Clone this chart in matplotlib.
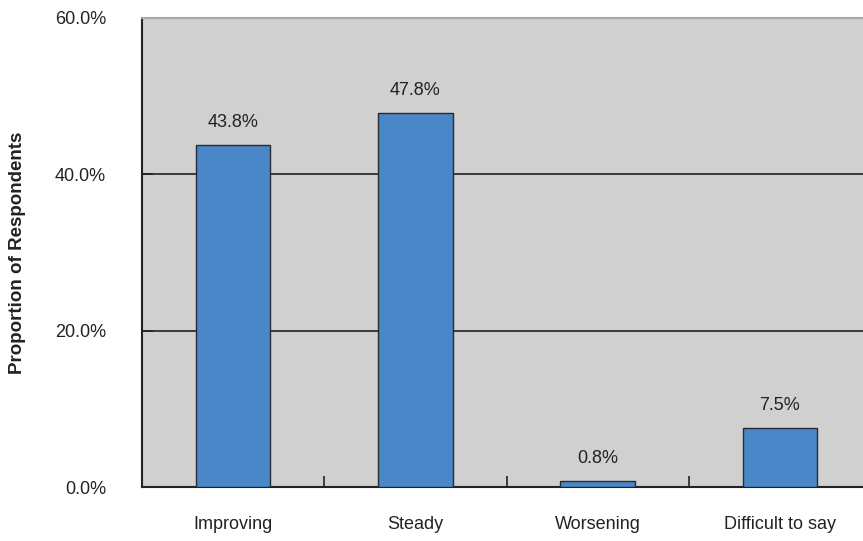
import matplotlib
matplotlib.use("Agg")
import matplotlib.pyplot as plt

categories = ["Improving", "Steady", "Worsening", "Difficult to say"]
values = [43.8, 47.8, 0.8, 7.5]
yticks = [0, 20, 40, 60]
ytick_labels = ["0.0%", "20.0%", "40.0%", "60.0%"]

plt.rcParams['font.family'] = ['Liberation Sans', 'DejaVu Sans']

fig = plt.figure(figsize=(8.63, 5.41), dpi=100)
W, H = 863, 541
ax = fig.add_axes([142 / W, (H - 487) / H, (871 - 142) / W, (487 - 18) / H])
ax.set_facecolor("#d0d0d0")

x = range(len(categories))
ax.bar(x, values, width=0.41, color="#4a87c8", edgecolor="#2b2b2b", linewidth=1.0, zorder=3)

for xi, v in zip(x, values):
    ax.annotate(f"{v:.1f}%", (xi, v), xytext=(0, 10), textcoords="offset points",
                ha="center", va="bottom", fontsize=13, color="#222222")

ax.set_xlim(-0.5, 3.5)
ax.set_ylim(0, 60)
ax.set_yticks(yticks)
ax.set_yticklabels(ytick_labels, fontsize=13, color="#222222")
for g in [20, 40]:
    ax.axhline(g, color="#222222", linewidth=1.2, zorder=1)

ax.set_xticks([0.5, 1.5, 2.5], minor=False)
ax.set_xticklabels([])
ax.set_xticks(list(x), minor=True)
ax.set_xticklabels(categories, minor=True, fontsize=13, color="#222222")
ax.tick_params(axis="x", which="major", direction="in", length=8, width=1.2, color="#222222")
ax.tick_params(axis="x", which="minor", length=0, pad=21)
ax.tick_params(axis="y", direction="in", length=8, width=1.2, color="#222222", pad=26)

ax.spines["left"].set_color("#222222")
ax.spines["left"].set_linewidth(1.5)
ax.spines["bottom"].set_color("#222222")
ax.spines["bottom"].set_linewidth(1.5)
ax.spines["top"].set_color("#a8a8a8")
ax.spines["top"].set_linewidth(1.5)
ax.spines["right"].set_visible(False)

ax.set_ylabel("Proportion of Respondents", fontsize=13.5, fontweight="bold", color="#222222")
ax.yaxis.set_label_coords(-116 / (871 - 142), 0.5)

fig.savefig("out.png", dpi=100)
